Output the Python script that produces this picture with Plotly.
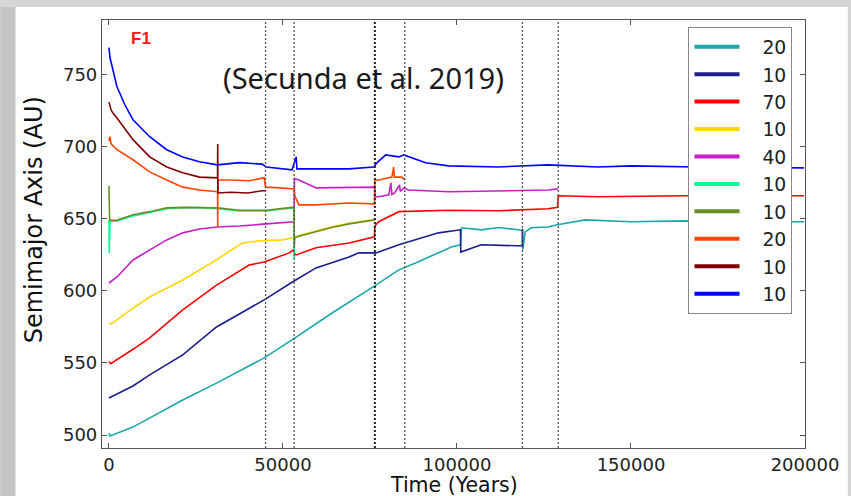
import plotly.graph_objects as go

# ---------------- data (years, AU) ----------------
labels = ["20", "10", "70", "10", "40", "10", "10", "20", "10", "10"]
colors = ["#1aa8a8", "#1c1c8e", "#ff0000", "#ffd700", "#c81ec8",
          "#00fa9a", "#6b8e23", "#ff4500", "#800000", "#0000ff"]

teal_t = [0, 300, 6900, 11700, 21200, 30900, 44600, 52600, 64100, 76700, 83300, 88100,
          98400, 101000, 101300, 107000, 112000, 117600, 118800, 118900, 119600, 121300,
          126200, 128500, 136800, 150000, 165400, 180000, 199700]
teal_a = [501.4, 499.3, 505.5, 511.8, 524.3, 536, 553.5, 566, 584.7, 604, 614.6, 619.4,
          630.5, 632, 643.8, 642.4, 644, 642.4, 642, 628.5, 641, 643.8,
          644.4, 645.8, 649.3, 648, 648.6, 648, 648]

navy_t = [0, 6900, 11700, 21200, 30900, 44600, 52600, 59500, 69000, 71800, 76700, 83300,
          94700, 101000, 101100, 107000, 117600, 118800, 118850]
navy_a = [525.7, 534, 541.7, 555.6, 575, 593.8, 606, 616, 623.6, 626.4, 626.4, 632,
          640.3, 642.4, 627, 632, 631.3, 631.3, 643]

red_t = [0, 500, 6900, 11700, 21200, 30900, 40300, 44600, 51800, 53000, 53300, 53800,
         59500, 69000, 76300, 76400, 77500, 83300, 97600, 111900, 126200, 128900, 129100,
         140500, 165400, 199700]
red_a = [551, 549.5, 559.5, 567.4, 586.8, 604, 618, 620, 626.4, 628.5, 626, 625,
         630, 633.3, 637.5, 645, 648, 655, 656, 655.6, 657, 658, 666,
         665.3, 666, 666]

gold_t = [0, 600, 6900, 11700, 21200, 30900, 38300, 43200, 49800, 52600, 53200, 54600,
          59500, 64000, 69000, 73800, 76400]
gold_a = [577.8, 577, 588, 595.8, 607.6, 621.5, 633.3, 634.7, 635.4, 636.8, 637, 638.5,
          641.5, 644.5, 647, 648.5, 649.5]

mag_t = [0, 2300, 6900, 11700, 16600, 21200, 26000, 31200, 37500, 45200, 52600, 53200,
         53300, 54600, 59500, 69000, 76300, 76500, 77500, 80400, 81000, 81300, 82100,
         83500, 83700, 84700, 86100, 97600, 111900, 126200, 129000]
mag_a = [605.5, 609.7, 621.5, 628.5, 635.4, 640.3, 643, 644.4, 645, 646.5, 648, 648,
         678, 677, 671.5, 671.5, 672, 665.3, 665.3, 666.7, 675, 667, 668,
         673.6, 669, 671.5, 670, 668.8, 669.4, 670, 670.8]

sg_t = [0, 100, 300, 2300, 6900, 11700, 16600, 21200, 26000, 31200, 37500, 45200,
        52600, 53200, 53250]
sg_a = [649, 626, 648, 648.5, 652, 654.5, 657, 657.8, 657.8, 657, 655.5, 655.5,
        657.5, 657, 622]

olive_t = [0, 200, 2300, 6900, 11700, 16600, 21200, 26000, 31200, 37500, 45200, 52600,
           53200, 53250, 53400, 54600, 59500, 64000, 69000, 73800, 76400]
olive_a = [673, 649, 649, 652.8, 655, 657.6, 658, 658, 657.6, 656, 656, 658,
           658, 630, 637, 638, 641, 644, 646.5, 648, 649.3]

orange_t = [0, 300, 600, 2300, 6900, 11700, 16600, 21200, 26000, 31200, 31250, 31300,
            34600, 40300, 44600, 45000, 49000, 52600, 53200, 53400, 54600, 59500, 69000,
            76300, 76400, 77500, 81300, 81800, 82000, 84100, 85000]
orange_a = [704, 707, 702, 698, 691, 682.6, 677, 672, 670, 668.8, 644.4, 677,
            677, 676.4, 678.5, 672, 671.5, 670.8, 670.8, 666, 659.7, 659.7, 661,
            660.4, 677, 677, 679, 686, 679, 679, 677]

maroon_t = [0, 600, 1100, 2300, 6900, 11700, 16600, 21200, 26000, 31200, 31250, 31300,
            35000, 40000, 44000, 45000]
maroon_a = [731, 725.7, 723.6, 720, 705, 693, 686, 682, 679, 678.5, 702, 668,
            668.5, 668, 669.5, 669.5]

blue_t = [0, 300, 2300, 4600, 6900, 11700, 16600, 21200, 26000, 31200, 37500, 44000,
          45200, 52600, 53800, 54000, 59500, 69000, 76100, 77000, 79500, 83300, 84700,
          91000, 97600, 111900, 126200, 140500, 150000, 169000, 199700]
blue_a = [768.8, 761.8, 741.7, 729, 718.8, 707, 698, 693, 689.6, 687.5, 689, 688,
          686, 684, 693, 684.7, 684.7, 684.7, 686, 688.9, 694.4, 693, 694.4,
          689, 686.8, 686, 687.5, 686, 686.8, 686, 685.4]

series_t = [teal_t, navy_t, red_t, gold_t, mag_t, sg_t, olive_t, orange_t, maroon_t, blue_t]
series_a = [teal_a, navy_a, red_a, gold_a, mag_a, sg_a, olive_a, orange_a, maroon_a, blue_a]

event_t = [45000, 53200, 76400, 85000, 118800, 129100]

x_ticks = [0, 50000, 100000, 150000, 200000]
y_ticks = [500, 550, 600, 650, 700, 750]

# ---------------- figure ----------------
W, H = 851, 496
L, R, T, B = 102, 43, 20, 48
pw, ph = W - L - R, H - T - B


def px(xp):
    return (xp - L) / pw


def py(yp):
    return (H - B - yp) / ph


fig = go.Figure()

for t, a, c in zip(series_t, series_a, colors):
    fig.add_trace(go.Scatter(x=t, y=a, mode="lines", line=dict(color=c, width=1.6),
                             showlegend=False, hoverinfo="skip"))

nb = "\u00a0"
for lab, c in zip(labels, colors):
    fig.add_trace(go.Scatter(x=[None], y=[None], mode="lines", line=dict(color=c, width=4),
                             name=nb * 3 + lab, showlegend=True))

shapes = [dict(type="rect", xref="paper", yref="paper", x0=px(15), x1=px(W), y0=py(H), y1=py(7),
               fillcolor="white", line=dict(width=0), layer="below"),
          dict(type="rect", xref="paper", yref="paper", x0=px(0), x1=px(15), y0=py(H), y1=py(7),
               fillcolor="#c4c4c4", line=dict(width=0), layer="below")]
for i, e in enumerate(event_t):
    shapes.append(dict(type="line", xref="x", yref="paper", x0=e, x1=e, y0=0, y1=1,
                       line=dict(color="#222" if i == 2 else "#555", width=2 if i == 2 else 1.3,
                                 dash="2px,2px")))

axis_common = dict(showgrid=False, zeroline=False, showline=True, linecolor="#555", linewidth=1.2,
                   mirror="ticks", ticks="inside", ticklen=5, tickcolor="#555",
                   tickfont=dict(family="DejaVu Sans", size=18, color="#222"))


def ann(text, x, y, size, family="DejaVu Sans", color="#111", angle=0):
    return dict(text=text, x=px(x), y=py(y), xref="paper", yref="paper", showarrow=False,
                xanchor="center", yanchor="middle", textangle=angle,
                font=dict(family=family, size=size, color=color))


fig.update_layout(
    width=W, height=H, margin=dict(l=L, r=R, t=T, b=B),
    paper_bgcolor="#d6d6d6", plot_bgcolor="white",
    xaxis=dict(range=[-2000, 200000], tickvals=x_ticks, ticktext=[str(v) for v in x_ticks], **axis_common),
    yaxis=dict(range=[491, 788], tickvals=y_ticks, ticktext=[str(v) for v in y_ticks], **axis_common),
    shapes=shapes,
    legend=dict(x=px(691), y=py(27), xanchor="left", yanchor="top", bgcolor="white",
                bordercolor="#888", borderwidth=1, font=dict(family="DejaVu Sans", size=18.8, color="#222"),
                itemwidth=45, tracegroupgap=0),
    annotations=[
        ann("<b>F1</b>", 141, 39, 17, family="Liberation Sans", color="#ff1a1a"),
        ann("(Secunda et al. 2019)", 365, 77, 29, family="Noto Sans", color="#1a1a1a"),
        ann("Time (Years)", 455, 484.5, 20.5),
        ann("Semimajor Axis (AU)", 34, 220, 24, angle=-90),
    ],
)

fig.write_html("out.html")
